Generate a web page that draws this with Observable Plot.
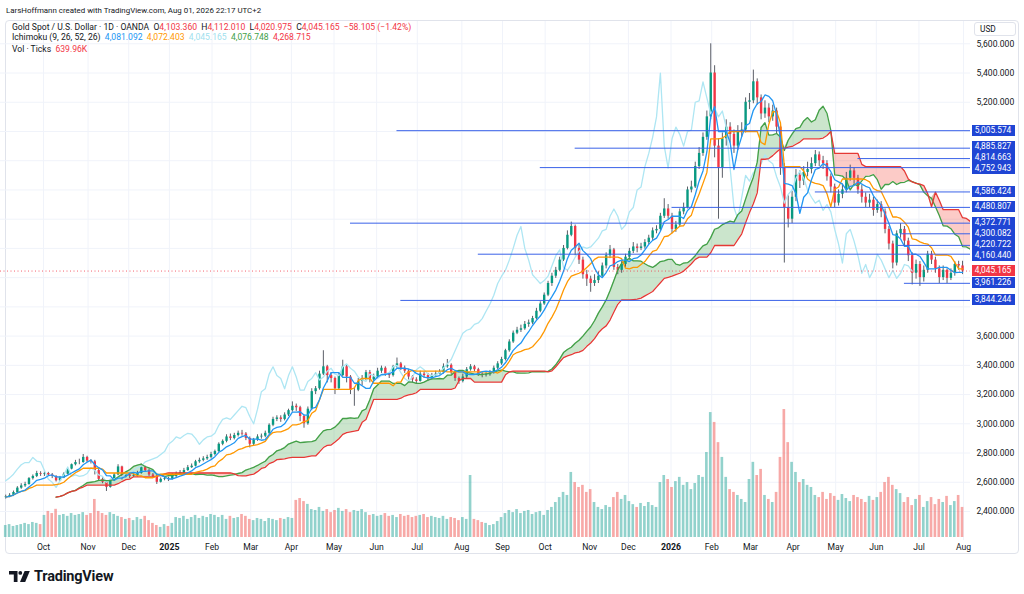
<!DOCTYPE html>
<html>
<head>
<meta charset="utf-8">
<script src="https://cdn.jsdelivr.net/npm/d3@7"></script>
<script src="https://cdn.jsdelivr.net/npm/@observablehq/plot@0.6"></script>
<style>
  html,body{margin:0;padding:0;background:#fff;}
  body{width:1024px;height:594px;position:relative;overflow:hidden;font-family:Roboto,"Noto Sans",sans-serif;color:#131722;}
  .abs{position:absolute;white-space:nowrap;}
  .credit{left:6px;top:5.5px;font-size:7.9px;}
  .frame{left:5px;top:20px;width:1014px;height:534px;border:1px solid #e0e3eb;border-radius:4px;box-sizing:border-box;}
  .leg{left:12px;font-size:8.6px;line-height:11px;}
  .r{color:#f23645}
  .usd{left:974px;top:22px;width:42px;height:14px;border:1px solid #e0e3eb;border-radius:3px;box-sizing:border-box;font-size:8.3px;line-height:12px;padding-left:5px;background:#fff;}
  .lab{left:971.5px;width:43px;height:11px;font-size:8.3px;line-height:11px;text-align:center;color:#fff;}
  .logo{left:9px;top:568px;display:flex;align-items:center;gap:4px;font-weight:700;font-size:14.5px;letter-spacing:-0.2px;color:#131722;}
  #chart{position:absolute;left:0;top:0;}
</style>
</head>
<body>
<div class="abs credit">LarsHoffmann created with TradingView.com, Aug 01, 2026 22:17 UTC+2</div>
<div class="abs frame"></div>
<div id="chart"></div>
<div class="abs leg" style="top:21.5px">Gold Spot / U.S. Dollar · 1D · OANDA&nbsp; O<span class="r">4,103.360</span>&nbsp; H<span class="r">4,112.010</span>&nbsp; L<span class="r">4,020.975</span>&nbsp; C<span class="r">4,045.165</span>&nbsp; <span class="r">−58.105 (−1.42%)</span></div>
<div class="abs leg" style="top:32px">Ichimoku (9, 26, 52, 26)&nbsp; <span style="color:#2196f3">4,081.092</span>&nbsp; <span style="color:#ff9800">4,072.403</span>&nbsp; <span style="color:#9fdfee">4,045.165</span>&nbsp; <span style="color:#43a047">4,076.748</span>&nbsp; <span style="color:#f23645">4,268.715</span></div>
<div class="abs leg" style="top:43.5px">Vol · Ticks&nbsp; <span class="r">639.96K</span></div>
<div class="abs usd">USD</div>
<div class="abs logo">
  <svg width="21" height="11" viewBox="0 0 21 11"><path d="M0 0h8.5v11H4.8V3.6H0z" fill="#131722"/><circle cx="11.3" cy="1.9" r="1.9" fill="#131722"/><path d="M15.6 0h5.2l-4.6 11h-5.2z" fill="#131722"/></svg>
  <span>TradingView</span>
</div>
<script>
// ---------- data (2-trading-day candles, Sep 3 2024 – Jul 31 2026) ----------
const startDate = "2024-09-03";
const holidays = ["2024-12-25","2025-01-01","2025-12-25","2026-01-01"];
const monthNames = ["Jan","Feb","Mar","Apr","May","Jun","Jul","Aug","Sep","Oct","Nov","Dec"];
const firstOpen = 2495;
const closes = [
2500,2510,2530,2560,2575,2585,2625,2640,2660,2655,
2660,2650,2640,2610,2630,2655,2690,2720,2735,2735,
2770,2745,2740,2680,2620,2600,2565,2610,2650,2705,
2640,2650,2640,2645,2660,2700,2680,2650,2640,2600,
2620,2625,2620,2640,2660,2665,2680,2700,2710,2740,
2750,2760,2770,2790,2810,2860,2880,2910,2900,2920,
2935,2930,2900,2860,2890,2910,2915,2935,2990,3030,
3040,3030,3060,3090,3120,3110,3050,3000,3100,3220,
3240,3340,3390,3330,3310,3240,3330,3390,3320,3230,
3230,3290,3310,3350,3300,3320,3360,3380,3340,3330,
3390,3410,3380,3360,3320,3300,3290,3340,3330,3310,
3330,3340,3350,3390,3400,3350,3310,3290,3320,3370,
3390,3370,3340,3330,3335,3350,3380,3410,3440,3500,
3560,3620,3640,3650,3680,3690,3720,3770,3820,3880,
3960,4010,4050,4120,4200,4290,4350,4200,4120,4020,
3990,3960,3980,4010,4080,4150,4190,4070,4050,4090,
4140,4180,4210,4200,4210,4240,4270,4320,4330,4420,
4470,4420,4330,4360,4450,4480,4600,4620,4760,4850,
4960,5100,5400,4900,4750,4950,5030,4980,4900,5000,
5010,5200,5210,5340,5230,5120,5160,5100,5140,5030,
4750,4480,4400,4550,4700,4660,4720,4740,4780,4840,
4800,4780,4690,4620,4510,4570,4600,4680,4730,4680,
4600,4550,4510,4530,4460,4500,4450,4330,4230,4100,
4300,4330,4250,4150,4030,4090,4000,4050,4160,4120,
4060,4000,4050,3995,4030,4090,4080,4045.165];
const highs = [
2512,2522,2540,2570,2590,2600,2632,2650,2675,2672,
2670,2668,2660,2645,2640,2665,2695,2725,2750,2758,
2790,2778,2755,2750,2690,2630,2610,2620,2660,2720,
2710,2665,2660,2660,2675,2725,2710,2690,2660,2650,
2630,2640,2635,2660,2670,2680,2695,2715,2725,2750,
2765,2775,2785,2805,2820,2870,2890,2925,2930,2935,
2950,2955,2940,2910,2900,2925,2930,2950,3000,3045,
3055,3055,3075,3100,3150,3135,3120,3060,3115,3240,
3255,3360,3500,3400,3350,3320,3345,3435,3400,3330,
3250,3310,3330,3365,3365,3340,3380,3395,3390,3350,
3400,3450,3420,3395,3370,3330,3315,3360,3355,3345,
3345,3360,3370,3410,3440,3410,3360,3320,3340,3385,
3405,3400,3380,3350,3350,3365,3395,3425,3455,3510,
3575,3635,3660,3675,3700,3710,3735,3790,3835,3895,
3975,4030,4070,4140,4220,4320,4380,4360,4230,4140,
4050,4010,4020,4040,4100,4170,4220,4200,4090,4110,
4160,4200,4240,4230,4235,4260,4290,4340,4355,4440,
4540,4500,4440,4385,4470,4510,4620,4660,4790,4890,
4990,5140,5600,5450,4950,4990,5080,5060,5010,5040,
5060,5230,5260,5420,5360,5250,5210,5190,5180,5160,
5050,4780,4560,4590,4740,4730,4760,4790,4820,4870,
4860,4830,4800,4710,4640,4600,4640,4720,4770,4750,
4700,4630,4580,4570,4550,4530,4520,4470,4350,4250,
4320,4370,4350,4270,4170,4120,4110,4080,4180,4180,
4140,4080,4080,4060,4060,4110,4112,4112.01];
const lows = [
2485,2494,2502,2525,2552,2565,2580,2615,2632,2640,
2640,2640,2625,2602,2605,2625,2650,2685,2712,2720,
2730,2735,2725,2650,2610,2590,2537,2560,2605,2645,
2615,2630,2625,2632,2635,2655,2670,2640,2630,2585,
2595,2610,2605,2615,2630,2650,2655,2675,2695,2705,
2730,2740,2750,2760,2780,2805,2850,2870,2885,2890,
2910,2915,2885,2835,2850,2880,2895,2905,2925,2980,
3015,3010,3020,3050,3080,3085,3015,2970,2990,3090,
3200,3230,3330,3280,3280,3200,3230,3320,3280,3200,
3120,3220,3260,3295,3280,3290,3310,3345,3325,3310,
3320,3380,3365,3345,3300,3280,3270,3285,3310,3290,
3300,3320,3335,3340,3380,3335,3290,3270,3280,3310,
3360,3355,3325,3315,3320,3325,3340,3370,3400,3430,
3490,3550,3610,3625,3640,3660,3680,3710,3760,3810,
3870,3940,3995,4040,4110,4190,4280,4150,4090,3990,
3940,3900,3940,3960,4000,4060,4130,4050,4020,4030,
4070,4120,4165,4170,4185,4195,4225,4255,4300,4315,
4405,4400,4300,4310,4345,4430,4470,4580,4610,4740,
4830,4940,5080,4820,4400,4680,4900,4920,4850,4870,
4960,4990,5150,5190,5180,5080,5090,5060,5070,4980,
4700,4100,4340,4370,4520,4610,4630,4690,4710,4760,
4760,4740,4660,4580,4480,4490,4540,4580,4660,4640,
4570,4510,4480,4480,4420,4440,4410,4300,4190,4060,
4080,4270,4210,4110,3950,3990,3940,3970,4030,4090,
4030,3960,3980,3960,3980,4010,4050,4020.975];
const volumes = [ // K ticks per day
255,275,235,255,275,300,275,320,300,275,
470,555,510,600,
470,490,450,510,470,490,530,470,510,
810,
555,510,470,530,490,450,
425,385,405,360,425,385,450,360,
300,255,215,275,235,300,
425,405,450,385,425,470,405,450,425,490,470,
425,470,385,450,405,425,490,450,
385,360,405,385,340,405,385,360,405,385,425,405,
790,830,765,705,
595,575,640,555,595,530,575,620,555,595,530,575,555,595,530,
470,490,450,470,510,450,470,425,490,450,470,425,450,470,490,425,450,
425,405,450,385,425,405,360,425,385,
1320,
385,360,320,300,255,275,
340,425,510,575,530,595,510,555,575,490,530,555,470,
575,640,745,850,960,895,
1385,
1170,1065,1110,960,1020,
745,640,595,680,640,
850,960,810,895,765,
700,640,725,660,745,680,640,
1170,1320,1235,1065,1190,1280,1110,1170,
1020,1150,1320,1280,
1810,2660,2450,2020,
1705,1280,1020,
960,895,810,745,
1235,1600,1320,1450,
895,810,745,960,
1705,
2725,
2020,1600,1385,
1170,1235,1110,1065,
895,850,960,810,935,875,790,915,830,765,895,850,810,745,875,790,850,
960,1170,1280,1110,1020,935,
745,850,680,810,895,640,765,850,700,810,745,875,680,765,895,640];
const priceTicks = [2400,2600,2800,3000,3200,3400,3600,3800,4000,4200,4400,4600,4800,5000,5200,5400,5600];
const levelValues = [5005.574,4885.827,4814.663,4752.943,4586.424,4480.807,4372.771,4300.082,4220.722,4160.440,3961.226,3844.244];
const levelStartCandle = [101,147,220,138,209,172,89,231,230,122,232,102];
const lastPrice = 4045.165;
// Ichimoku (9,26,52,26) expressed in 2-day bars
const TENKAN = 5, KIJUN = 13, SPANB = 26, SHIFT = 13;

// ---------- calendar ----------
const days = [];
{
  const d = new Date(startDate + "T00:00:00Z");
  const end = new Date("2026-08-31T00:00:00Z");
  while (d <= end) {
    const iso = d.toISOString().slice(0,10);
    const w = d.getUTCDay();
    if (w !== 0 && w !== 6 && !holidays.includes(iso)) days.push(iso);
    d.setUTCDate(d.getUTCDate() + 1);
  }
}
const dayIdx = new Map(days.map((s,i)=>[s,i]));
const monthTicks = [], monthLabels = [], yearTicks = [], yearLabels = [];
for (let i = 1; i < days.length; i++) {
  if (days[i].slice(5,7) !== days[i-1].slice(5,7)) {
    const m = +days[i].slice(5,7) - 1;
    if (days[i] > "2026-08-05") break;
    if (m === 0) { yearTicks.push(i); yearLabels.push(days[i].slice(0,4)); }
    else { monthTicks.push(i); monthLabels.push(monthNames[m]); }
  }
}
const iOct = dayIdx.get("2024-10-01"), iAug = dayIdx.get("2026-08-03");
const k = 920 / (iAug - iOct);
const xLo = iOct - 43 / k, xHi = xLo + 970 / k;

// ---------- derived series ----------
const n = closes.length;
const candles = closes.map((c,j)=>({
  x: 2*j + 0.5, open: j ? closes[j-1] : firstOpen, close: c, high: highs[j], low: lows[j], v: volumes[j]
}));
candles.forEach(d => d.col = d.close >= d.open ? "#089981" : "#f23645");
const hl = (j,p) => {
  const a = Math.max(0, j-p+1);
  return (d3.max(highs.slice(a, j+1)) + d3.min(lows.slice(a, j+1))) / 2;
};
const tenkan = d3.range(n).map(j => ({x: 2*j+0.5, y: hl(j,TENKAN)}));
const kijun = d3.range(n).map(j => ({x: 2*j+0.5, y: hl(j,KIJUN)}));
const spans = d3.range(SHIFT, n + SHIFT).map(kk => {
  const j = kk - SHIFT;
  const A = (tenkan[j].y + kijun[j].y) / 2, B = hl(j, SPANB);
  return {x: 2*kk+0.5, A, B, M: Math.max(A,B)};
});
const lagging = d3.range(SHIFT, n).map(j => ({x: 2*(j-SHIFT)+0.5, y: closes[j]}));

// volume secondary scale (pixels of the pane) mapped onto price units
const yDomain = [2400, 5600], yRange = [511, 43.3];
const pxOfPrice = d3.scaleLinear().domain(yDomain).range(yRange);
const priceOfPx = d3.scaleLinear().domain(yRange).range(yDomain);
const volPx = d3.scaleLinear().domain([0, 2800]).range([537, 405.5]);
const volBase = priceOfPx(537);
const levels = levelValues.map((v,i)=>({v, x1: 2*levelStartCandle[i]+0.5}));

// axis ticks hidden behind price labels (as TradingView does)
const labelValues = levelValues.concat([lastPrice]);
const shownTicks = priceTicks.filter(t => labelValues.every(v => Math.abs(pxOfPrice(t) - pxOfPrice(v)) > 10));

const chart = Plot.plot({
  width: 1024, height: 560,
  marginLeft: 0, marginRight: 54, marginTop: 21, marginBottom: 20,
  x: {domain: [xLo, xHi], range: [0, 970], axis: null},
  y: {domain: yDomain, range: yRange, axis: null},
  color: {type: "identity"},
  style: {fontFamily: "Roboto, 'Noto Sans', sans-serif", fontSize: "8.6px", color: "#131722", background: "transparent", overflow: "visible"},
  marks: [
    Plot.ruleY(priceTicks, {stroke: "#f0f3fa", strokeWidth: 1}),
    Plot.ruleX(monthTicks.concat(yearTicks), {stroke: "#f0f3fa", strokeWidth: 1}),
    Plot.rect(candles, {x1: d=>d.x-0.68, x2: d=>d.x+0.68, y1: volBase, y2: d=>priceOfPx(volPx(d.v)),
      fill: d=> d.close >= d.open ? "#26a69a" : "#ef5350", fillOpacity: 0.5}),
    Plot.areaY(spans, {x: "x", y1: "B", y2: "M", fill: "#43a047", fillOpacity: 0.28, clip: true}),
    Plot.areaY(spans, {x: "x", y1: "A", y2: "M", fill: "#f44336", fillOpacity: 0.28, clip: true}),
    Plot.ruleX(candles, {x: "x", y1: "low", y2: "high", stroke: "#4a4d57", strokeWidth: 0.9}),
    Plot.ruleX(candles, {x: "x", y1: "open", y2: "close", stroke: "col", strokeWidth: 2.4}),
    Plot.line(lagging, {x: "x", y: "y", stroke: "#aee6f3", strokeWidth: 1.3}),
    Plot.line(spans, {x: "x", y: "A", stroke: "#43a047", strokeWidth: 1.3, clip: true}),
    Plot.line(spans, {x: "x", y: "B", stroke: "#e53935", strokeWidth: 1.3, clip: true}),
    Plot.line(kijun, {x: "x", y: "y", stroke: "#ff9800", strokeWidth: 1.3}),
    Plot.line(tenkan, {x: "x", y: "y", stroke: "#2196f3", strokeWidth: 1.3}),
    Plot.ruleY(levels, {y: "v", x1: "x1", x2: xHi, stroke: "#3a62e8", strokeWidth: 1}),
    Plot.ruleY([lastPrice], {stroke: "#f23645", strokeWidth: 0.8, strokeDasharray: "1,2.5"}),
    Plot.axisY({anchor: "right", ticks: shownTicks, tickFormat: d3.format(",.3f"), tickSize: 0, tickPadding: 6, fontSize: 8.6, fill: "#131722",
      fontWeight: d => d === 3000 ? "bold" : "normal"}),
    Plot.axisX({ticks: monthTicks, tickFormat: (d,i)=>monthLabels[i], tickSize: 0, tickPadding: 3, fontSize: 8.6, fill: "#131722"}),
    Plot.axisX({ticks: yearTicks, tickFormat: (d,i)=>yearLabels[i], tickSize: 0, tickPadding: 3, fontSize: 8.8, fontWeight: "bold", fill: "#131722"})
  ]
});
document.getElementById("chart").appendChild(chart);

// price-axis labels placed with the chart's own y scale, spread apart so they stack
const ys = chart.scale("y");
const fmt = d3.format(",.3f");
const labs = levelValues.map(v => ({v, bg: "#1f45d4", y: ys.apply(v)}))
  .concat([{v: lastPrice, bg: "#f23645", y: ys.apply(lastPrice)}])
  .sort((a,b) => a.y - b.y);
const H = 11;
for (let it = 0; it < 60; it++) {
  for (let i = 1; i < labs.length; i++) {
    const gap = labs[i].y - labs[i-1].y;
    if (gap < H) { const dlt = (H - gap) / 2; labs[i-1].y -= dlt; labs[i].y += dlt; }
  }
}
labs.forEach(l => {
  const el = document.createElement("div");
  el.className = "abs lab";
  el.style.top = (l.y - H/2) + "px";
  el.style.background = l.bg;
  el.textContent = fmt(l.v);
  document.body.appendChild(el);
});
</script>
</body>
</html>
